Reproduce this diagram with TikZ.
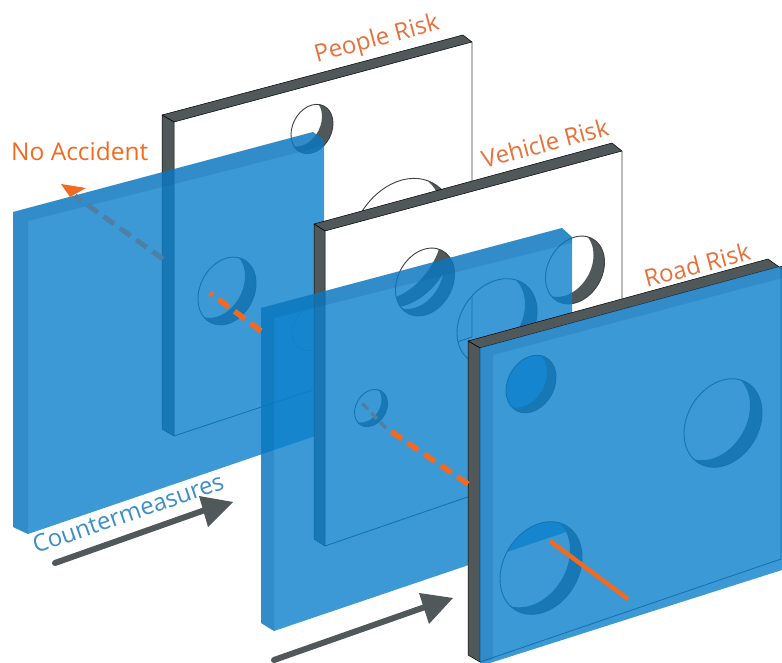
\documentclass[tikz,border=0pt]{standalone}
\usepackage{fontspec}
\setmainfont{Open Sans}
\definecolor{edgegrey}{HTML}{50585A}
\definecolor{glass}{HTML}{0B80CC}
\definecolor{glassband}{HTML}{0A5A96}
\definecolor{orangeline}{HTML}{F26A21}
\definecolor{orangetext}{HTML}{E8703A}
\definecolor{bluetext}{HTML}{3C8DC8}
\definecolor{ghostdash}{HTML}{4E7FA5}
\tikzset{
  glasspane/.style={fill=glass,fill opacity=.8},
  glasstrim/.style={fill=glassband,fill opacity=.2},
  edgestrip/.style={fill=edgegrey,draw=black,line width=.5pt,line join=round},
  rim/.style={draw=black!75,line width=.9pt},
  plateline/.style={draw=black!75,line width=.9pt},
  label/.style={font=\fontsize{24}{26}\selectfont,inner sep=0pt},
  orangedash/.style={draw=orangeline,line width=5.5pt,dash pattern=on 13pt off 7pt},
  greydash/.style={draw=ghostdash,line width=5pt,dash pattern=on 13pt off 7pt},
  bigarrow/.style={draw=edgegrey,line width=6pt,line cap=round},
  arrowhead/.style={fill=edgegrey},
}
% skewed circle lying in a plate: centre x, centre y, half width, vertical radius
\newcommand\hp[4]{
 ({#1+#3},{#2-.267*#3})
 .. controls ({#1+#3},{#2-.267*#3+.5523*#4}) and ({#1+.5523*#3},{#2-.267*.5523*#3+#4}) .. ({#1},{#2+#4})
 .. controls ({#1-.5523*#3},{#2+.267*.5523*#3+#4}) and ({#1-#3},{#2+.267*#3+.5523*#4}) .. ({#1-#3},{#2+.267*#3})
 .. controls ({#1-#3},{#2+.267*#3-.5523*#4}) and ({#1-.5523*#3},{#2+.267*.5523*#3-#4}) .. ({#1},{#2-#4})
 .. controls ({#1+.5523*#3},{#2-.267*.5523*#3-#4}) and ({#1+#3},{#2-.267*#3-.5523*#4}) .. ({#1+#3},{#2-.267*#3})
 -- cycle }
% wall of the hole: the part of the front rim that the shifted back rim leaves
\newcommand\holewall[6]{
 \begin{scope}
  \clip \hp{#1}{#2}{#3}{#4};
  \fill[edgegrey,even odd rule] (-50,-50) rectangle (900,800) \hp{#1-#5}{#2-#6}{#3}{#4};
 \end{scope}
 \draw[rim] \hp{#1}{#2}{#3}{#4};
}
\begin{document}
\begin{tikzpicture}[x=1pt,y=-1pt]
\useasboundingbox (0,0) rectangle (782,663);

% ---------- People Risk plate
\fill[white,even odd rule] (174,122) -- (472,42) -- (472,337) -- (174,436) -- cycle
  \hp{312}{129}{21}{24} \hp{227}{291}{29}{33} \hp{402}{243}{54}{63} \hp{312}{328}{20}{22};
\holewall{312}{129}{21}{24}{11}{7}
\holewall{227}{291}{29}{33}{11}{7}
\holewall{402}{243}{54}{63}{12}{7}
\draw[draw=black!85,line width=.3pt] \hp{312}{328}{20}{22};
\draw[plateline] (472,42) -- (472,337) -- (174,436);
\fill[edgestrip] (162,115) -- (463,35) -- (472,42) -- (174,122) -- cycle;
\fill[edgestrip] (162,115) -- (174,122) -- (174,436) -- (162,429) -- cycle;

% ---------- first countermeasure pane
\fill[glasspane] (13,212) -- (313,132) -- (324,140) -- (324,433) -- (28,534) -- (13,527) -- cycle;
\fill[glasstrim] (13,212) -- (313,132) -- (324,140) -- (324,146) -- (28,221) -- (28,534) -- (13,527) -- cycle;

% ---------- Vehicle Risk plate
\fill[white,even odd rule] (325,231) -- (622,151) -- (622,444) -- (325,546) -- cycle
  \hp{425}{282}{29.5}{33} \hp{497}{322}{40}{42} \hp{575}{270}{29.5}{33} \hp{371}{408}{16.5}{18};
\holewall{425}{282}{29.5}{33}{11}{7}
\holewall{497}{322}{40}{42}{12}{7}
\holewall{575}{270}{29.5}{33}{11}{7}
\holewall{371}{408}{16.5}{18}{6}{4}
\draw[plateline] (622,151) -- (622,444) -- (325,546);
\fill[edgestrip] (314,224) -- (612,143) -- (622,151) -- (325,231) -- cycle;
\fill[edgestrip] (314,224) -- (325,231) -- (325,546) -- (314,539) -- cycle;

% ---------- second countermeasure pane
\fill[glasspane] (261,308) -- (562,228) -- (572,237) -- (572,530) -- (274,631) -- (261,623) -- cycle;
\fill[glasstrim] (261,308) -- (562,228) -- (572,237) -- (572,243) -- (274,318) -- (274,631) -- (261,623) -- cycle;

% ---------- Road Risk plate
\fill[white,even odd rule] (480,348) -- (778,267) -- (781,267) -- (781,559) -- (480,662) -- cycle
  \hp{531}{384}{25}{28} \hp{723}{423}{39}{43} \hp{541}{568}{41}{45};
\holewall{531}{384}{25}{28}{9}{5}
\holewall{723}{423}{39}{43}{12}{7}
\holewall{541}{568}{41}{45}{12}{7}
\draw[plateline] (781,267) -- (781,559) -- (480,662);
\fill[edgestrip] (468,341) -- (768,259) -- (782,269) -- (782,266.5) -- (778,267) -- (480,348) -- cycle;
\fill[edgestrip] (468,341) -- (480,348) -- (480,662) -- (468,655) -- cycle;

% ---------- third countermeasure pane
\fill[glasspane] (480,348) -- (778,267) -- (782,267) -- (782,570) -- (490,663) -- (480,663) -- cycle;
\fill[glasstrim] (480,348) -- (778,267) -- (782,267) -- (782,278) -- (493,355) -- (493,659) -- (480,663) -- cycle;

% ---------- accident path
\coordinate (roadentry) at (550,541);
\coordinate (roadexit) at (628,599);
\coordinate (vehentry) at (386,428);
\coordinate (vehedge) at (468,484);
\coordinate (vehghost) at (360,401);
\coordinate (peoplein) at (210,293);
\coordinate (peopleout) at (261,331);
\coordinate (ghoststart) at (163,259);
\coordinate (ghostend) at (75,196);
\draw[draw=orangeline,line width=4.5pt] (roadentry) -- (roadexit);
\draw[orangedash] (vehedge) -- (vehentry);
\draw[greydash,line width=3.5pt,dash pattern=on 8pt off 5pt] (vehentry) -- (vehghost);
\draw[orangedash] (peopleout) -- (peoplein);
\draw[greydash] (ghoststart) -- (ghostend);
\fill[orangeline] (61,184) -- (86,188) -- (70,197) -- cycle;

% ---------- direction arrows
\coordinate (a1s) at (55,563);
\coordinate (a1e) at (205,510);
\coordinate (a2s) at (274,660);
\coordinate (a2e) at (425,607);
\draw[bigarrow] (a1s) -- (a1e);
\fill[arrowhead] (233,502) -- (199,496) -- (208,527) -- cycle;
\draw[bigarrow] (a2s) -- (a2e);
\fill[arrowhead] (453,598) -- (419,593) -- (429,624) -- cycle;

% ---------- labels
\node[label,text=orangeline,font=\fontsize{24.5}{26}\selectfont,anchor=west] (noacc) at (11,151) {No Accident};
\node[label,text=orangetext,rotate=15] (people) at (377,40) {People Risk};
\node[label,text=orangetext,rotate=15] (vehicle) at (545,143) {Vehicle Risk};
\node[label,text=orangetext,rotate=15] (road) at (697,265) {Road Risk};
\node[label,text=bluetext,rotate=19] (counter) at (128,513) {Countermeasures};
\end{tikzpicture}
\end{document}
